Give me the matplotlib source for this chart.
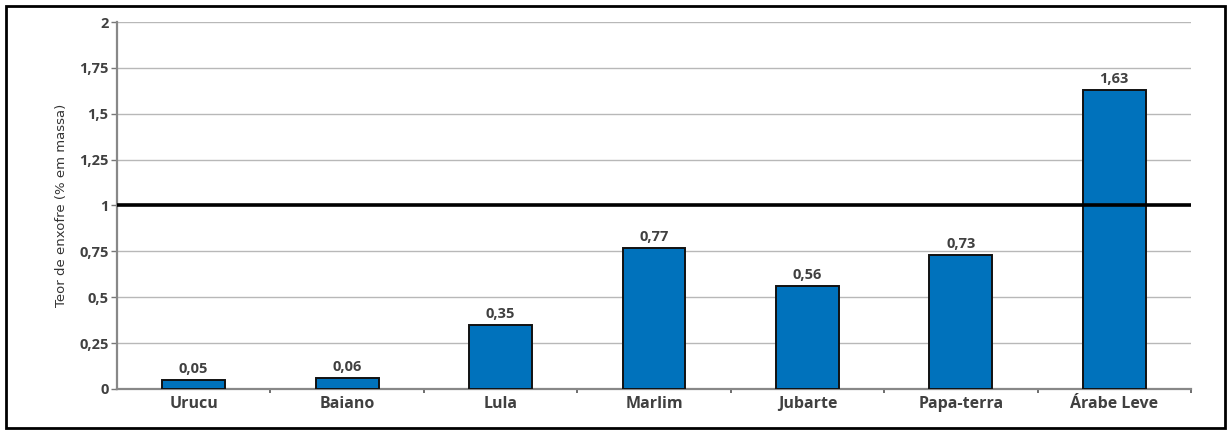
import matplotlib
matplotlib.use("Agg")
import matplotlib.pyplot as plt
from matplotlib.patches import Rectangle

# Sulfur content of crude oils
campos = ["Urucu", "Baiano", "Lula", "Marlim", "Jubarte", "Papa-terra", "Árabe Leve"]
enxofre = [0.05, 0.06, 0.35, 0.77, 0.56, 0.73, 1.63]
y_ticks = [0, 0.25, 0.5, 0.75, 1, 1.25, 1.5, 1.75, 2]
limite = 1.0


def virgula(v):
    s = f"{v:g}"
    return s.replace(".", ",")


plt.rcParams["font.family"] = ["Open Sans", "DejaVu Sans"]

fig = plt.figure(figsize=(12.31, 4.34), dpi=100)
ax = fig.add_axes([0.0950, 0.1037, 0.8725, 0.8456])

x = list(range(len(campos)))
ax.bar(x, enxofre, width=0.41, color="#0072bc", edgecolor="#111111",
       linewidth=1.4, zorder=3)

for xi, v in zip(x, enxofre):
    ax.annotate(f"{v:.2f}".replace(".", ","), (xi, v), xytext=(0, 3),
                textcoords="offset points", ha="center", va="bottom",
                fontsize=10.5, fontweight="bold", color="#404040")

ax.set_xlim(-0.5, len(campos) - 0.5)
ax.set_ylim(0, 2)

ax.set_yticks(y_ticks)
ax.set_yticklabels([virgula(t) for t in y_ticks], fontsize=10.5,
                   fontweight="bold", color="#404040")
ax.yaxis.grid(True, color="#b8b8b8", linewidth=1.0, zorder=0)
ax.set_axisbelow(True)
ax.axhline(limite, color="black", linewidth=2.6, zorder=4)

ax.set_xticks(x)
ax.set_xticklabels(campos, fontsize=11.5, fontweight="bold", color="#404040")
ax.tick_params(axis="x", length=0, pad=5)
ax.set_xticks([i + 0.5 for i in x[:-1]] + [len(campos) - 0.5], minor=True)
ax.tick_params(axis="x", which="minor", length=3, width=1.2, color="#555555")
ax.tick_params(axis="y", length=4, width=1.0, color="#777777", pad=2)

for s in ["top", "right"]:
    ax.spines[s].set_visible(False)
ax.spines["left"].set_color("#888888")
ax.spines["left"].set_linewidth(1.6)
ax.spines["bottom"].set_color("#888888")
ax.spines["bottom"].set_linewidth(1.6)

ax.set_ylabel("Teor de enxofre (% em massa)", fontsize=9.5,
              family=["Liberation Sans Narrow", "DejaVu Sans"],
              color="#333333", labelpad=8)

# outer frame
fig.patches.append(Rectangle((6 / 1231, 6 / 434), 1219 / 1231, 422 / 434,
                             transform=fig.transFigure, fill=False,
                             edgecolor="black", linewidth=2))

fig.savefig("out.png", dpi=100)
